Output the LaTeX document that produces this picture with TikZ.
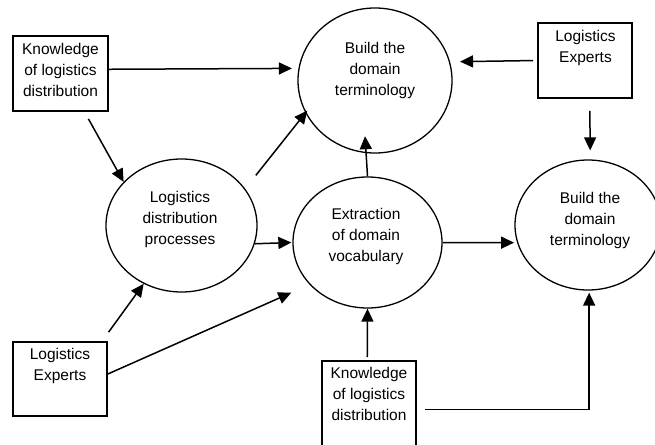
\documentclass[tikz,border=0pt]{standalone}
\usepackage{fontspec}
\setmainfont{Liberation Sans}
\usetikzlibrary{arrows.meta,shapes.geometric}
\begin{document}
\begin{tikzpicture}[x=1pt,y=-1pt,
  box/.style={draw,line width=1.8pt,inner sep=0pt,minimum width=94pt,minimum height=75pt},
  bubble/.style={draw,ellipse,line width=1.3pt,inner sep=0pt},
  lbl/.style={align=center,inner sep=0pt,font=\fontsize{15.5}{21}\selectfont},
  arr/.style={line width=1.5pt,-{Triangle[length=13pt,width=12pt]}}]
\useasboundingbox (0,0) rectangle (655,444);
\clip (0,0) rectangle (655,444);
% boxes
\node[box,minimum width=95pt] (kd1) at (60.5,73.5) {};
\node[box] (le1) at (585,60.5) {};
\node[box,minimum height=74pt] (le2) at (60,379) {};
\node[box,minimum height=100pt] (kd2) at (369,411) {};
% bubbles
\node[bubble,minimum width=154pt,minimum height=145pt] (bt1) at (375,80.5) {};
\node[bubble,minimum width=151pt,minimum height=133pt] (ldp) at (181.5,225.5) {};
\node[bubble,minimum width=149pt,minimum height=131pt] (ext) at (367.5,242.5) {};
\node[bubble,minimum width=146pt,minimum height=130pt] (bt2) at (588,225) {};
% texts
\node[lbl] (tkd1) at (60.5,70.2) {Knowledge\\of logistics\\distribution};
\node[lbl] (tle1) at (585.5,47.5) {Logistics\\Experts};
\node[lbl] (tle2) at (60,365.5) {Logistics\\Experts};
\node[lbl] (tkd2) at (369,393.9) {Knowledge\\of logistics\\distribution};
\node[lbl] (tbt1) at (375,70) {Build the\\domain\\terminology};
\node[lbl] (text) at (366,236.5) {Extraction\\of domain\\vocabulary};
\node[lbl] (tldp) at (180,219.5) {Logistics\\distribution\\processes};
\node[lbl] (tbt2) at (590,220.5) {Build the\\domain\\terminology};
% connectors
\draw[arr,shorten >=6.5pt] (kd1.5.4) -- (bt1.171);
\draw[arr,shorten <=4pt,shorten >=10pt] (le1.west) -- (bt1.14.7);
\draw[arr,shorten <=12pt,shorten >=9pt] (le1.277.6) -- (bt2.88.4);
\draw[arr,shorten <=8pt] (kd1.302.1) -- (ldp.143.1);
\draw[arr,shorten <=17pt,shorten >=-3pt] (ldp.30.4) -- (bt1.205.9);
\draw[arr,shorten >=-17pt] (ext.north) -- (bt1.263.7);
\draw[arr,shorten >=1pt] (ldp.346.5) -- (ext.west);
\draw[arr,shorten >=3pt] (ext.east) -- (bt2.194.4);
\draw[arr,shorten <=11pt] (le2.42.6) -- (ldp.237.1);
\draw[arr,shorten >=20pt] (le2.6.07) -- (ext.216.6);
\draw[arr,shorten <=3pt] (kd2.92.3) -- (ext.south);
\draw[arr,shorten <=8pt,shorten >=2pt] (kd2.2.4) -| (bt2.271.8);
\end{tikzpicture}
\end{document}
